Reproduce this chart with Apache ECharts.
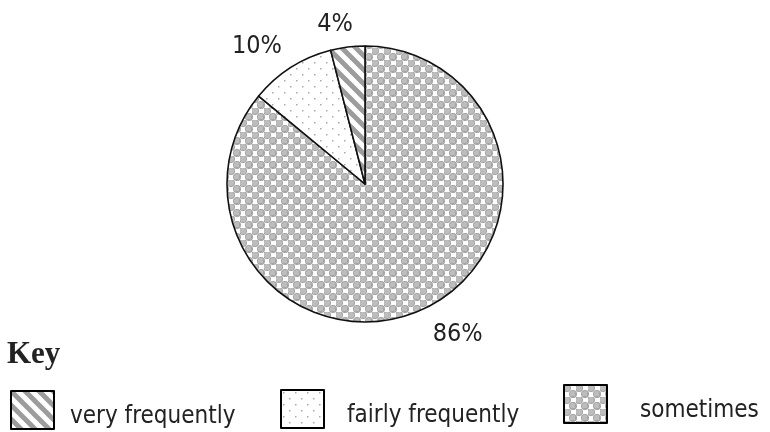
<!DOCTYPE html>
<html><head><meta charset="utf-8">
<script src="https://cdn.jsdelivr.net/npm/echarts@6/dist/echarts.min.js"></script>
<style>html,body{margin:0;padding:0;background:#fff}#c{width:770px;height:432px}</style>
</head><body><div id="c"></div>
<script>
const categories = ['sometimes', 'fairly frequently', 'very frequently'];
const values = [86, 10, 4];
const legendOrder = ['very frequently', 'fairly frequently', 'sometimes'];

function makeCanvas(w, h, draw) {
  const c = document.createElement('canvas');
  c.width = w; c.height = h;
  const g = c.getContext('2d');
  draw(g, w, h);
  return c;
}
const stripes = makeCanvas(14, 14, (g, w, h) => {
  g.fillStyle = '#ffffff'; g.fillRect(0, 0, w, h);
  g.strokeStyle = '#9c9c9c'; g.lineWidth = 5;
  for (let k = -2; k <= 2; k++) {
    g.beginPath(); g.moveTo(k * 14 - 4, -4); g.lineTo(k * 14 + 18, 18); g.stroke();
  }
});
const dots = makeCanvas(12, 12, (g, w, h) => {
  g.fillStyle = '#ffffff'; g.fillRect(0, 0, w, h);
  g.fillStyle = '#aaaaaa';
  g.fillRect(2, 2, 1.5, 1.5); g.fillRect(8, 8, 1.5, 1.5);
});
const circles = makeCanvas(12, 12, (g, w, h) => {
  g.fillStyle = '#ffffff'; g.fillRect(0, 0, w, h);
  const pts = [[3, 3], [9, 9], [9, -3], [-3, 9], [15, 9], [9, 15], [-3, -3], [15, 15], [15, -3], [-3, 15]];
  pts.forEach(p => {
    g.beginPath(); g.arc(p[0], p[1], 3.7, 0, Math.PI * 2);
    g.fillStyle = '#bdbdbd'; g.fill();
    g.lineWidth = 0.9; g.strokeStyle = '#a0a0a0'; g.stroke();
  });
});
const fills = {
  'sometimes': { image: circles, repeat: 'repeat' },
  'fairly frequently': { image: dots, repeat: 'repeat' },
  'very frequently': { image: stripes, repeat: 'repeat' }
};
// label nudges (dx, dy) in pixels, applied through labelLayout
const labelNudges = {
  'sometimes': [-2, 13],
  'fairly frequently': [6, -14],
  'very frequently': [12, -9]
};

const FONT = "'DejaVu Sans Condensed', 'Liberation Sans Narrow', sans-serif";
const chart = echarts.init(document.getElementById('c'), null, { renderer: 'canvas' });
const legendLefts = [10, 280, 563];
const legendTops = [390, 389, 384];
const legendPads = [11, 18, 28];
const legends = legendOrder.map((name, i) => ({
  data: [name],
  left: legendLefts[i],
  top: legendTops[i],
  padding: 0,
  orient: 'horizontal',
  itemWidth: 43,
  itemHeight: 38,
  itemGap: 0,
  selectedMode: false,
  icon: 'rect',
  itemStyle: { borderColor: '#000', borderWidth: 2 },
  formatter: n => '{s| }\n{t|' + n + '}',
  textStyle: {
    fontFamily: FONT, fontSize: 24, color: '#222',
    rich: {
      s: { fontSize: 2, lineHeight: 14, padding: [0, 0, 0, legendPads[i]] },
      t: { fontFamily: FONT, fontSize: 24, color: '#222', padding: [0, 0, 0, legendPads[i]] }
    }
  }
}));

chart.setOption({
  animation: false,
  backgroundColor: '#ffffff',
  title: {
    text: 'Key', left: 2, top: 334,
    textStyle: { fontFamily: "'Liberation Serif', 'Times New Roman', serif", fontWeight: 'bold', fontSize: 31, color: '#222' }
  },
  legend: legends,
  series: [{
    type: 'pie',
    center: [365, 184],
    radius: 138,
    startAngle: 90,
    clockwise: true,
    silent: true,
    itemStyle: { borderColor: '#111', borderWidth: 1.6 },
    label: {
      show: true, position: 'outside',
      formatter: '{c}%',
      fontFamily: FONT, fontSize: 25, color: '#222'
    },
    labelLine: { show: false, length: 14, length2: 0 },
    labelLayout: p => {
      const d = labelNudges[categories[p.dataIndex]];
      return { dx: d[0], dy: d[1] };
    },
    data: categories.map((n, i) => ({
      name: n, value: values[i],
      itemStyle: { color: fills[n] }
    }))
  }]
});
</script></body></html>
